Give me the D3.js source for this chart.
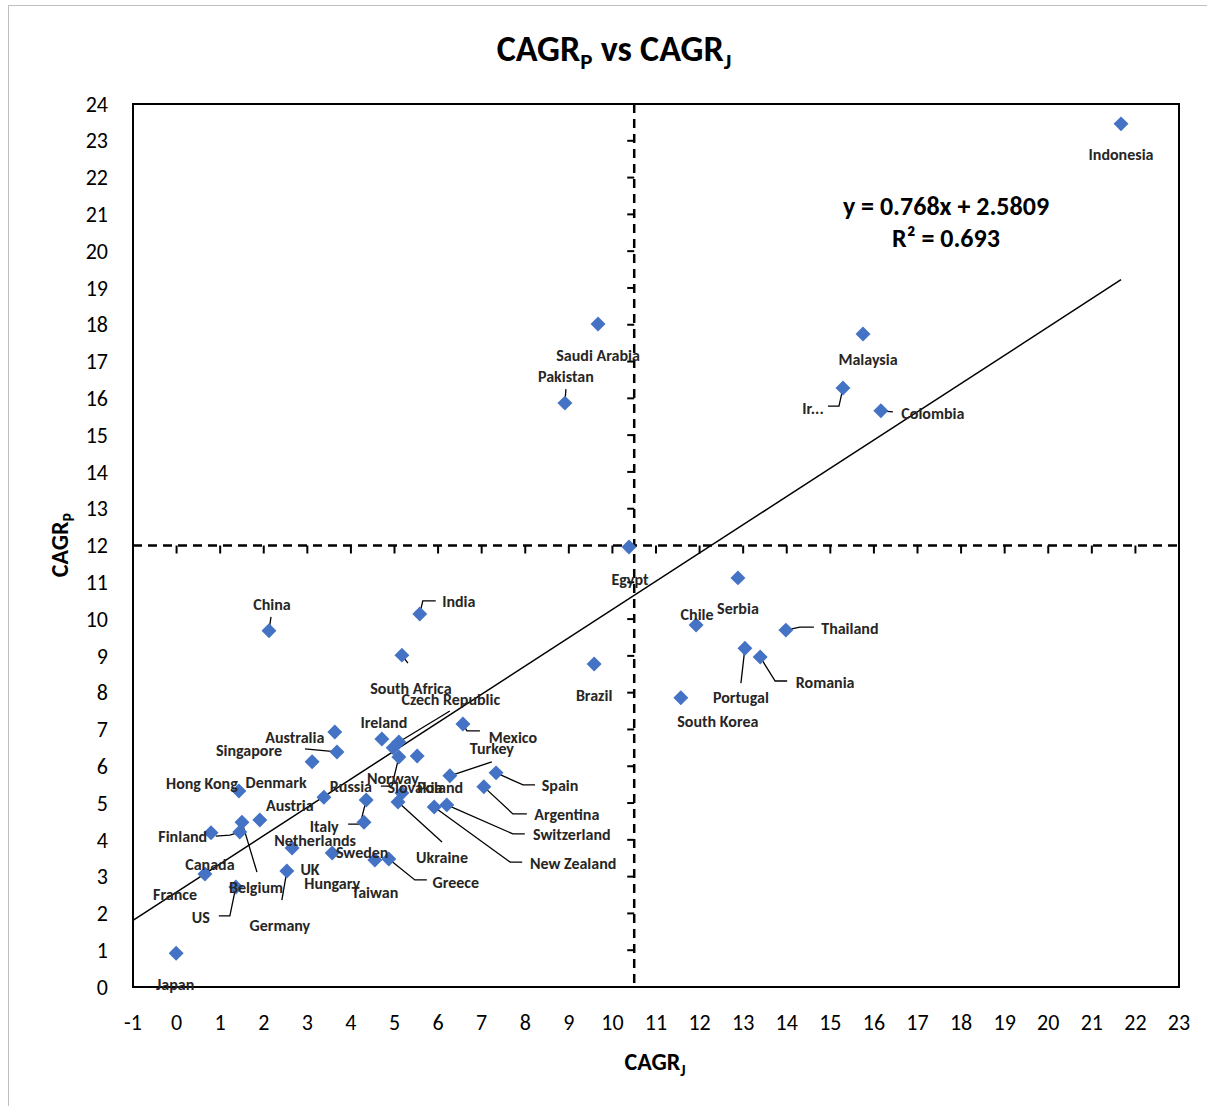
<!DOCTYPE html>
<html>
<head>
<meta charset="utf-8">
<script src="https://cdn.jsdelivr.net/npm/d3@7"></script>
<style>
  body { margin: 0; background: #fff; }
  text { font-family: Carlito, Calibri, "Liberation Sans", sans-serif; }
</style>
</head>
<body>
<svg id="chart"></svg>
<script>
// countries, CAGR_J (x) and CAGR_P (y)
const countries = ["Indonesia", "Saudi Arabia", "Pakistan", "Malaysia", "Ir...", "Colombia", "Egypt", "Serbia",
  "Chile", "Thailand", "Portugal", "Romania", "South Korea", "Brazil", "India", "China", "South Africa",
  "Mexico", "Turkey", "Spain", "Argentina", "Switzerland", "New Zealand", "Ireland", "Czech Republic",
  "Hungary", "Norway", "Poland", "Slovakia", "Ukraine", "Australia", "Singapore", "Denmark", "Hong Kong",
  "Russia", "Italy", "UK", "Austria", "Belgium", "Finland", "France", "Canada", "US", "Netherlands",
  "Germany", "Sweden", "Taiwan", "Greece", "Japan"];
const cagrJ = [21.67, 9.67, 8.91, 15.75, 15.29, 16.16, 10.38, 12.88,
  11.92, 13.98, 13.04, 13.39, 11.57, 9.58, 5.58, 2.12, 5.17,
  6.57, 6.27, 7.33, 7.05, 6.20, 5.91, 4.71, 5.10,
  4.97, 5.10, 5.52, 5.17, 5.08, 3.63, 3.68, 3.11, 1.43,
  3.38, 4.35, 4.30, 1.91, 1.50, 1.45, 0.79, 0.65, 1.36, 2.65,
  2.53, 3.57, 4.55, 4.87, -0.01];
const cagrP = [23.46, 18.02, 15.87, 17.75, 16.28, 15.66, 11.96, 11.12,
  9.84, 9.70, 9.21, 8.97, 7.86, 8.78, 10.14, 9.68, 9.02,
  7.15, 5.74, 5.82, 5.44, 4.95, 4.89, 6.74, 6.66,
  6.50, 6.25, 6.28, 5.27, 5.03, 6.93, 6.39, 6.12, 5.33,
  5.16, 5.08, 4.48, 4.54, 4.48, 4.21, 4.19, 3.07, 2.72, 3.78,
  3.15, 3.64, 3.45, 3.48, 0.92];

const xTicks = d3.range(-1, 24);
const yTicks = d3.range(0, 25);
const slope = 0.768, intercept = 2.5809, r2 = 0.693;
const crossX = 10.5, crossY = 12;

// label placement (pixel offset from the point) and leader elbows
const labelOffset = {
  "Indonesia": [0, 31], "Saudi Arabia": [0, 31], "Pakistan": [1, -27], "Malaysia": [5, 25],
  "Ir...": [-30, 20], "Colombia": [52, 3], "Egypt": [1, 32], "Serbia": [0, 31], "Chile": [1, -11],
  "Thailand": [64, -2], "Portugal": [-4, 49], "Romania": [65, 25], "South Korea": [37, 24],
  "Brazil": [0, 31], "India": [39, -13], "China": [3, -26], "South Africa": [9, 33],
  "Czech Republic": [52, -43], "Ireland": [2, -17], "Mexico": [50, 13], "Turkey": [42, -27],
  "Australia": [-40, 5], "Singapore": [-88, -2], "Hong Kong": [-37, -8], "Denmark": [-36, 21],
  "Norway": [-6, 21], "Russia": [27, -11], "Slovakia": [13, -6], "Poland": [23, 31], "Spain": [64, 13],
  "Austria": [30, -15], "Argentina": [83, 28], "Switzerland": [125, 30], "Italy": [-42, 26],
  "Finland": [-57, 4], "Netherlands": [23, -8], "Ukraine": [44, 55], "Sweden": [30, -1],
  "New Zealand": [139, 56], "Canada": [5, -10], "UK": [-54, 47], "Greece": [67, 23],
  "Hungary": [-61, 136], "Taiwan": [0, 32], "France": [-36, 62], "Belgium": [14, 65],
  "US": [-35, 30], "Germany": [-7, 54], "Japan": [-1, 31]
};
const leaders = {
  "China": [[2, -14]], "India": [[16, -13], [3, -13]], "South Africa": [[6, 8]],
  "Czech Republic": [[51, -31]], "Mexico": [[17, 7], [4, 7]], "Turkey": [[42, -14]],
  "Spain": [[39, 12], [27, 12]], "Argentina": [[43, 27], [29, 27]], "Switzerland": [[78, 29], [66, 29]],
  "New Zealand": [[88, 55], [76, 55]], "Ukraine": [[44, 40]], "Greece": [[38, 21], [26, 21]],
  "Norway": [[-18, 29], [-7, 29]], "Italy": [[-18, 24], [-6, 24]], "Singapore": [[-32, -3]],
  "Finland": [[-24, 4], [-10, 3]], "Belgium": [[15, 50]], "US": [[-17, 29], [-6, 29]],
  "Germany": [[-5, 29]], "Ir...": [[-15, 18], [-4, 18]], "Colombia": [[12, 1]],
  "Thailand": [[28, -3], [14, -3]], "Portugal": [[-4, 35]], "Romania": [[27, 24], [15, 24]],
  "Pakistan": [[1, -14]]
};

const data = countries.map((c, i) => ({ name: c, x: cagrJ[i], y: cagrP[i] }));

const W = 1207, H = 1106;
const plotL = 133, plotR = 1179, plotT = 104, plotB = 987;

const svg = d3.select("#chart").attr("width", W).attr("height", H);

// outer chart border
svg.append("rect")
  .attr("x", 8.5).attr("y", 5.5).attr("width", W + 20).attr("height", H + 20)
  .attr("fill", "none").attr("stroke", "#bfbfbf").attr("stroke-width", 1);

const x = d3.scaleLinear().domain([-1, 23]).range([plotL, plotR]);
const y = d3.scaleLinear().domain([0, 24]).range([plotB, plotT]);

// plot area frame
svg.append("rect")
  .attr("x", plotL).attr("y", plotT).attr("width", plotR - plotL).attr("height", plotB - plotT)
  .attr("fill", "none").attr("stroke", "#000").attr("stroke-width", 2);

// tick labels (low position)
svg.append("g").selectAll("text").data(yTicks).join("text")
  .attr("x", 108).attr("y", d => y(d)).attr("dy", "0.35em")
  .attr("text-anchor", "end").attr("font-size", 22).text(d => d);
svg.append("g").selectAll("text").data(xTicks).join("text")
  .attr("x", d => x(d)).attr("y", 1022).attr("dy", "0.35em")
  .attr("text-anchor", "middle").attr("font-size", 22).text(d => d);

// dashed crossing axes with their tick marks
const axes = svg.append("g").attr("stroke", "#000").attr("stroke-width", 2.5);
axes.append("line")
  .attr("x1", x(crossX)).attr("x2", x(crossX)).attr("y1", plotT).attr("y2", plotB)
  .attr("stroke-dasharray", "9,6");
axes.append("line")
  .attr("x1", plotL).attr("x2", plotR).attr("y1", y(crossY)).attr("y2", y(crossY))
  .attr("stroke-dasharray", "9,6");
axes.selectAll(".ty").data(yTicks).join("line")
  .attr("x1", x(crossX) - 7).attr("x2", x(crossX)).attr("y1", d => y(d)).attr("y2", d => y(d))
  .attr("stroke-width", 2);
axes.selectAll(".tx").data(xTicks).join("line")
  .attr("x1", d => x(d)).attr("x2", d => x(d)).attr("y1", y(crossY)).attr("y2", y(crossY) + 8)
  .attr("stroke-width", 2);

// trendline
const xMax = d3.max(cagrJ);
svg.append("line")
  .attr("x1", x(-1)).attr("y1", y(slope * -1 + intercept))
  .attr("x2", x(xMax)).attr("y2", y(slope * xMax + intercept))
  .attr("stroke", "#000").attr("stroke-width", 1.5);

// leader lines
const lg = svg.append("g").attr("fill", "none").attr("stroke", "#000").attr("stroke-width", 1.3);
data.filter(d => leaders[d.name]).forEach(d => {
  const px = x(d.x), py = y(d.y);
  const pts = leaders[d.name].map(o => [px + o[0], py + o[1]]).concat([[px, py]]);
  lg.append("path").attr("d", d3.line()(pts));
});

// points
svg.append("g").selectAll("path").data(data).join("path")
  .attr("d", d3.symbol(d3.symbolSquare, 112))
  .attr("transform", d => `translate(${x(d.x)},${y(d.y)}) rotate(45)`)
  .attr("fill", "#4472C4");

// data labels
svg.append("g").selectAll("text").data(data).join("text")
  .attr("x", d => x(d.x) + labelOffset[d.name][0])
  .attr("y", d => y(d.y) + labelOffset[d.name][1])
  .attr("dy", "0.35em").attr("text-anchor", "middle")
  .attr("font-size", 16).attr("font-weight", "bold").attr("fill", "#262626")
  .text(d => d.name);

// regression equation
svg.append("text").attr("x", 946).attr("y", 206).attr("dy", "0.35em")
  .attr("text-anchor", "middle").attr("font-size", 26).attr("font-weight", "bold")
  .text(`y = ${slope}x + ${intercept}`);
svg.append("text").attr("x", 946).attr("y", 238).attr("dy", "0.35em")
  .attr("text-anchor", "middle").attr("font-size", 26).attr("font-weight", "bold")
  .text(`R² = ${r2}`);

// title
const title = svg.append("text").attr("x", 614).attr("y", 61)
  .attr("text-anchor", "middle").attr("font-size", 36).attr("font-weight", "bold");
title.append("tspan").text("CAGR");
title.append("tspan").attr("font-size", 23).attr("dy", 8).text("P");
title.append("tspan").attr("dy", -8).text(" vs CAGR");
title.append("tspan").attr("font-size", 23).attr("dy", 8).text("J");

// axis titles
const xt = svg.append("text").attr("x", 655).attr("y", 1070)
  .attr("text-anchor", "middle").attr("font-size", 24).attr("font-weight", "bold");
xt.append("tspan").text("CAGR");
xt.append("tspan").attr("font-size", 16).attr("dy", 6).text("J");

const yt = svg.append("text").attr("transform", "translate(68,545) rotate(-90)")
  .attr("text-anchor", "middle").attr("font-size", 24).attr("font-weight", "bold");
yt.append("tspan").text("CAGR");
yt.append("tspan").attr("font-size", 16).attr("dy", 6).text("P");
</script>
</body>
</html>
